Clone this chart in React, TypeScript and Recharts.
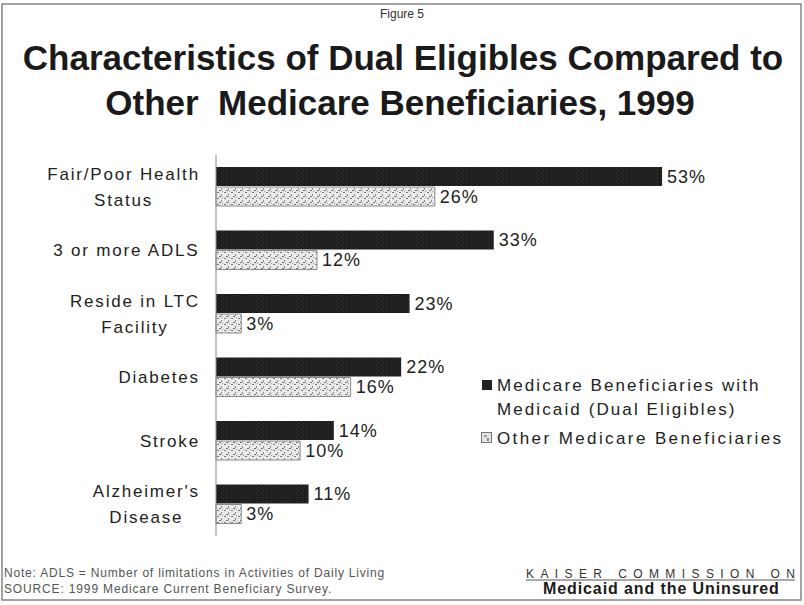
import { BarChart, Bar, XAxis, YAxis, LabelList } from 'recharts';

const categories = ['Fair/Poor Health|Status', '3 or more ADLS', 'Reside in LTC|Facility', 'Diabetes', 'Stroke', "Alzheimer's|Disease"];
const dualEligibles = [53, 33, 23, 22, 14, 11];
const otherBeneficiaries = [26, 12, 3, 16, 10, 3];
const seriesNames = ['Medicare Beneficiaries with|Medicaid (Dual Eligibles)', 'Other Medicare Beneficiaries'];

const FONT = '"Liberation Sans", Arial, Helvetica, sans-serif';
const TICK_SIZE = 17;
const TICK_SPACING = 1.8;

const data = categories.map((name, i) => ({
  name,
  dual: dualEligibles[i],
  other: otherBeneficiaries[i],
}));

let ctx: CanvasRenderingContext2D | null = null;
function textWidth(s: string) {
  if (!ctx) ctx = document.createElement('canvas').getContext('2d');
  if (!ctx) return s.length * 9;
  ctx.font = `${TICK_SIZE}px ${FONT}`;
  return ctx.measureText(s).width + TICK_SPACING * (s.length - 1);
}

// label block is right aligned, each line centred inside the block
function CategoryTick(props: any) {
  const { y, payload } = props;
  const lines: string[] = String(payload.value).split('|');
  const right = 199;
  const w = Math.max(...lines.map(textWidth));
  const cx = right - w / 2;
  const first = lines.length === 1 ? y + 6 : y - 7;
  return (
    <g>
      {lines.map((l, i) => (
        <text
          key={i}
          x={cx}
          y={first + i * 26}
          textAnchor="middle"
          fontSize={TICK_SIZE}
          fontFamily={FONT}
          letterSpacing={TICK_SPACING}
          fill="#222"
        >
          {l}
        </text>
      ))}
    </g>
  );
}

const pct = (v: any) => `${v}%`;

export default function App() {
  const [legend1a, legend1b] = seriesNames[0].split('|');
  return (
    <div style={{ position: 'absolute', left: 0, top: 0, width: 804, height: 605, background: '#fff', overflow: 'hidden' }}>
      <BarChart
        width={804}
        height={605}
        data={data}
        layout="vertical"
        margin={{ top: 155, right: 83, left: 0, bottom: 69 }}
        barSize={19}
        barGap={1}
      >
        <defs>
          <pattern id="stipple" width="7" height="6" patternUnits="userSpaceOnUse">
            <rect width="7" height="6" fill="#e8e8e8" />
            <rect x="0" y="0" width="2" height="1" fill="#7a7a7a" />
            <rect x="4" y="2" width="1" height="2" fill="#8f8f8f" />
            <rect x="2" y="4" width="2" height="1" fill="#707070" />
            <rect x="5" y="5" width="1" height="1" fill="#a0a0a0" />
            <rect x="6" y="1" width="1" height="1" fill="#fff" />
            <rect x="1" y="3" width="1" height="1" fill="#fff" />
          </pattern>
          <pattern id="dark" width="5" height="4" patternUnits="userSpaceOnUse">
            <rect width="5" height="4" fill="#1e1e1e" />
            <rect x="1" y="1" width="1" height="1" fill="#3a3a3a" />
            <rect x="3" y="3" width="1" height="1" fill="#333" />
          </pattern>
        </defs>
        <XAxis type="number" domain={[0, 60]} hide />
        <YAxis
          type="category"
          dataKey="name"
          width={216}
          axisLine={{ stroke: '#888', strokeWidth: 1 }}
          tickLine={false}
          interval={0}
          tick={<CategoryTick />}
        />
        <Bar dataKey="dual" fill="url(#dark)" isAnimationActive={false}>
          <LabelList dataKey="dual" position="right" offset={5} formatter={pct} fontSize={18} fontFamily={FONT} letterSpacing={1} fill="#222" />
        </Bar>
        <Bar dataKey="other" fill="url(#stipple)" stroke="#8a8a8a" strokeWidth={1} isAnimationActive={false}>
          <LabelList dataKey="other" position="right" offset={5} formatter={pct} fontSize={18} fontFamily={FONT} letterSpacing={1} fill="#222" />
        </Bar>
      </BarChart>

      <svg width={804} height={605} style={{ position: 'absolute', left: 0, top: 0, pointerEvents: 'none' }}>
        <rect x={2} y={4} width={799} height={596} fill="none" stroke="#666" strokeWidth={1.2} />
        <text x={402} y={18} textAnchor="middle" fontSize={12} fontFamily={FONT} fill="#333">Figure 5</text>
        <text x={403} y={70} textAnchor="middle" fontSize={35} fontWeight="bold" fontFamily={FONT} fill="#1a1a1a">
          Characteristics of Dual Eligibles Compared to
        </text>
        <text x={400} y={115} textAnchor="middle" fontSize={35} fontWeight="bold" fontFamily={FONT} fill="#1a1a1a" style={{ whiteSpace: 'pre' }}>
          {'Other  Medicare Beneficiaries, 1999'}
        </text>

        {/* legend */}
        <rect x={482} y={380} width={10} height={10} fill="#222" />
        <text x={497} y={391} fontSize={17} fontFamily={FONT} letterSpacing={2.1} fill="#222">{legend1a}</text>
        <text x={497} y={415} fontSize={17} fontFamily={FONT} letterSpacing={2.1} fill="#222">{legend1b}</text>
        <rect x={481.5} y={432.5} width={10} height={10} fill="#e4e4e4" stroke="#777" />
        <rect x={484} y={435} width={3} height={2} fill="#999" />
        <rect x={487} y={438} width={2} height={3} fill="#888" />
        <text x={497} y={444} fontSize={17} fontFamily={FONT} letterSpacing={2.4} fill="#222">{seriesNames[1]}</text>

        {/* footer */}
        <text x={4} y={577} fontSize={12} fontFamily={FONT} letterSpacing={0.8} fill="#555">Note: ADLS = Number of limitations in Activities of Daily Living</text>
        <text x={4} y={593} fontSize={12} fontFamily={FONT} letterSpacing={0.85} fill="#555">SOURCE: 1999 Medicare Current Beneficiary Survey.</text>
        <text x={526} y={578} fontSize={12} fontFamily={FONT} letterSpacing={6.4} fill="#333">KAISER COMMISSION ON</text>
        <line x1={526} y1={580} x2={795} y2={580} stroke="#555" strokeWidth={1} />
        <text x={543} y={594} fontSize={16} fontWeight="bold" fontFamily={FONT} letterSpacing={0.9} fill="#1a1a1a">Medicaid and the Uninsured</text>
      </svg>
    </div>
  );
}
